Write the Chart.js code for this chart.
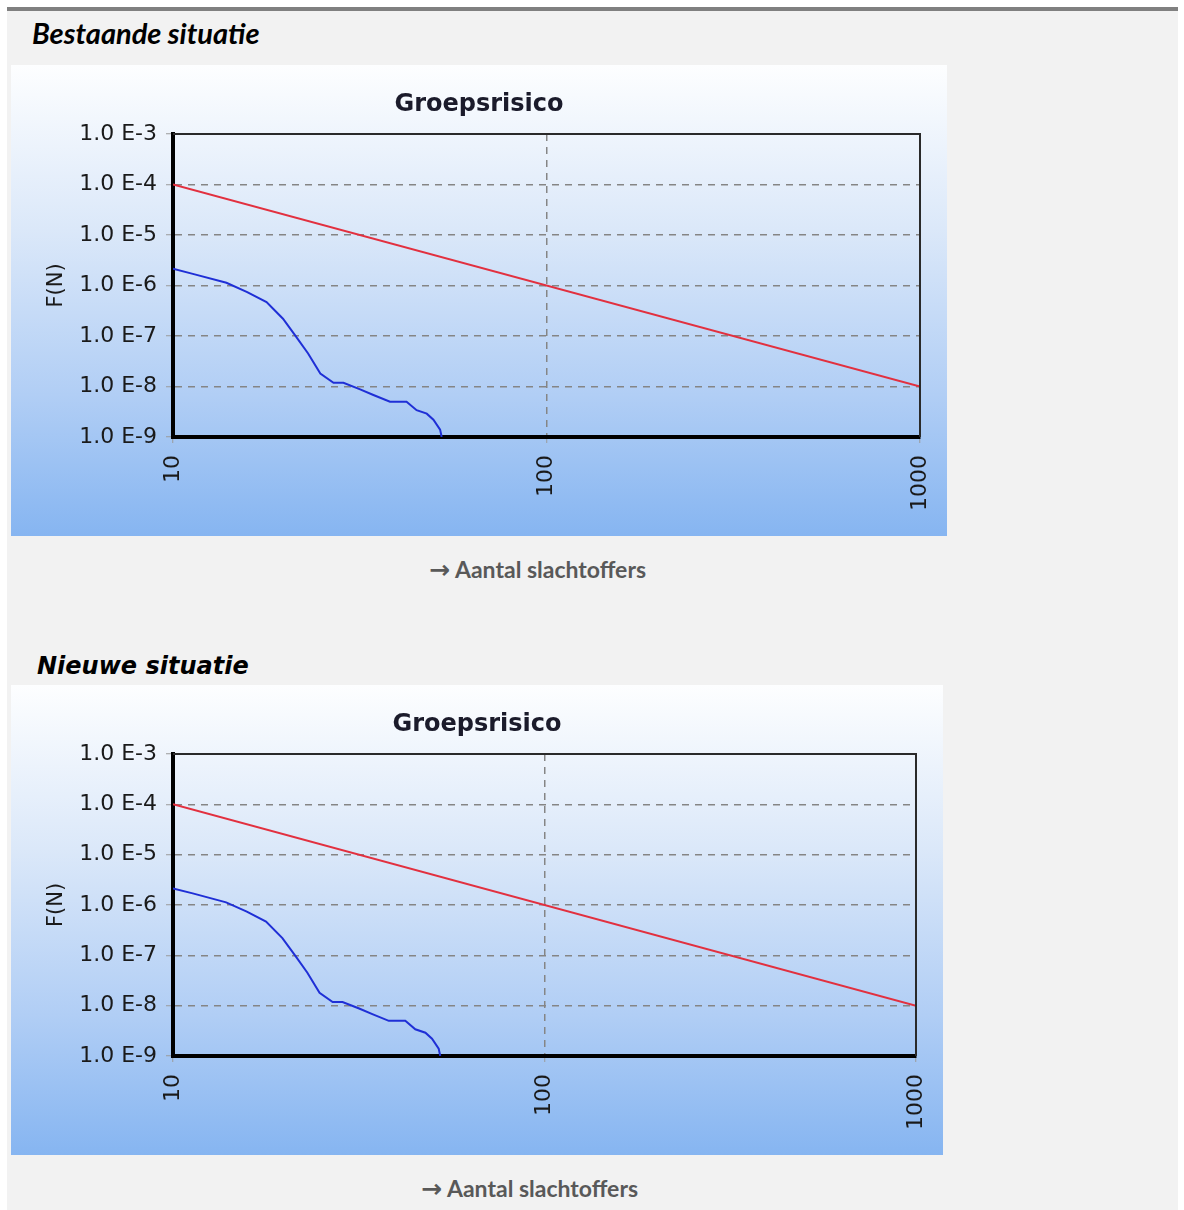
<!DOCTYPE html>
<html>
<head>
<meta charset="utf-8">
<script src="https://cdn.jsdelivr.net/npm/chart.js@4.4.0/dist/chart.umd.min.js"></script>
<style>
body{margin:0;background:#fff;width:1184px;height:1210px;position:relative;overflow:hidden;}
#page{position:absolute;left:7px;top:7px;width:1171px;height:1210px;background:#f2f2f2;border-top:4px solid #808080;}
.kop{position:absolute;font-weight:bold;font-style:italic;color:#000;white-space:nowrap;}
#kop1{left:32px;top:15px;font-family:Lato,"Open Sans",sans-serif;font-size:29px;}
#kop2{left:37px;top:652px;font-family:"DejaVu Sans",Verdana,sans-serif;font-size:24px;}
.paneel{position:absolute;background:linear-gradient(to bottom,#fdfeff 0%,#dbe8f9 35%,#b1cef5 70%,#86b5f1 100%);}
#p1{left:11px;top:65px;width:936px;height:471px;}
#p2{left:11px;top:685px;width:932px;height:470px;}
.onder{position:absolute;font-family:Lato,"Open Sans",sans-serif;font-weight:bold;font-size:23px;color:#595959;white-space:nowrap;}
.onder span{font-family:"DejaVu Sans",sans-serif;font-weight:bold;font-size:25px;margin-right:5px;}
#o1{left:429px;top:555px;}
#o2{left:421px;top:1174px;}
</style>
</head>
<body>
<div id="page"></div>
<div class="kop" id="kop1">Bestaande situatie</div>
<div class="paneel" id="p1"><canvas id="chart1"></canvas></div>
<div class="onder" id="o1"><span>&#8594;</span>Aantal slachtoffers</div>
<div class="kop" id="kop2">Nieuwe situatie</div>
<div class="paneel" id="p2"><canvas id="chart2"></canvas></div>
<div class="onder" id="o2"><span>&#8594;</span>Aantal slachtoffers</div>
<script>
// Groepsrisico: aantal slachtoffers N tegen frequentie F(N)
var yTickValues = [1e-9, 1e-8, 1e-7, 1e-6, 1e-5, 1e-4, 1e-3];
var yTickLabels = ['1.0 E-9', '1.0 E-8', '1.0 E-7', '1.0 E-6', '1.0 E-5', '1.0 E-4', '1.0 E-3'];
var xTickValues = [10, 100, 1000];
var xTickLabels = ['10', '100', '1000'];

// blauwe curve (berekend groepsrisico)
var grN = [10, 11.3, 13.9, 15.8, 17.8, 19.7, 21.4, 23.0, 24.8, 26.9, 28.6, 31.7, 34.4, 38.1, 42.2, 44.9, 47.8, 49.8, 51.9, 52.4];
var grF = [2.14e-6, 1.7e-6, 1.13e-6, 7.4e-7, 4.7e-7, 2.2e-7, 9.5e-8, 4.5e-8, 1.8e-8, 1.18e-8, 1.18e-8, 8.8e-9, 6.8e-9, 5.0e-9, 5.0e-9, 3.4e-9, 2.9e-9, 2.2e-9, 1.4e-9, 1.0e-9];

// rode lijn (oriëntatiewaarde)
var owN = [10, 1000];
var owF = [1e-4, 1e-8];

var frame = {
    id: 'frame',
    afterDraw: function (chart) {
        var a = chart.chartArea;
        var ctx = chart.ctx;
        ctx.save();
        ctx.strokeStyle = '#2a2a2a';
        ctx.lineWidth = 2;
        ctx.beginPath();
        ctx.moveTo(a.left, a.top);
        ctx.lineTo(a.right, a.top);
        ctx.lineTo(a.right, a.bottom);
        ctx.stroke();
        ctx.restore();
    }
};

function pts(xs, ys){
    var out = [];
    for (var i = 0; i < xs.length; i++) out.push({x: xs[i], y: ys[i]});
    return out;
}

function makeChart(id){
    var ctx = document.getElementById(id).getContext('2d');
    return new Chart(ctx, {
        type: 'scatter',
        data: {
            datasets: [{
                label: 'Oriëntatiewaarde',
                data: pts(owN, owF),
                showLine: true,
                borderColor: '#e2303f',
                borderWidth: 2,
                pointRadius: 0
            }, {
                label: 'Groepsrisico',
                data: pts(grN, grF),
                showLine: true,
                borderColor: '#1f2fd6',
                borderWidth: 2,
                pointRadius: 0
            }]
        },
        options: {
            animation: false,
            responsive: true,
            maintainAspectRatio: false,
            layout: {padding: {left: 17, right: 17, top: 0, bottom: 0}},
            plugins: {
                legend: {display: false},
                tooltip: {enabled: false},
                title: {
                    display: true,
                    text: 'Groepsrisico',
                    color: '#1b1b2b',
                    font: {family: 'DejaVu Sans', size: 24, weight: 'bold', lineHeight: 1},
                    padding: {top: 28, bottom: 17}
                }
            },
            scales: {
                x: {
                    type: 'logarithmic',
                    min: 10,
                    max: 1000,
                    afterBuildTicks: function (s) {
                        s.ticks = xTickValues.map(function (v) { return {value: v}; });
                    },
                    afterFit: function (s) {
                        s.height = 99;
                        s.paddingRight = 27;
                        s.paddingLeft = 0;
                    },
                    ticks: {
                        autoSkip: false,
                        minRotation: 90,
                        maxRotation: 90,
                        padding: 12,
                        color: '#1a1a1a',
                        font: {family: 'DejaVu Sans', size: 22},
                        callback: function (v, i) { return xTickLabels[i]; }
                    },
                    grid: {color: '#858585', lineWidth: 1.5, tickLength: 6, tickColor: '#9a9a9a', tickWidth: 1},
                    border: {color: '#000', width: 4, dash: [7, 6]}
                },
                y: {
                    type: 'logarithmic',
                    min: 1e-9,
                    max: 1e-3,
                    afterBuildTicks: function (s) {
                        s.ticks = yTickValues.map(function (v) { return {value: v}; });
                    },
                    afterFit: function (s) { s.width = 145; },
                    ticks: {
                        padding: 9,
                        color: '#1a1a1a',
                        font: {family: 'DejaVu Sans', size: 22},
                        callback: function (v, i) { return yTickLabels[i]; }
                    },
                    title: {
                        display: true,
                        text: 'F(N)',
                        color: '#1a1a1a',
                        font: {family: 'DejaVu Sans', size: 21},
                        padding: {top: 16, bottom: 0}
                    },
                    grid: {color: '#858585', lineWidth: 1.5, tickLength: 7, tickColor: '#9a9a9a', tickWidth: 1},
                    border: {color: '#000', width: 4, dash: [7, 6]}
                }
            }
        },
        plugins: [frame]
    });
}

makeChart('chart1');
makeChart('chart2');
</script>
</body>
</html>
